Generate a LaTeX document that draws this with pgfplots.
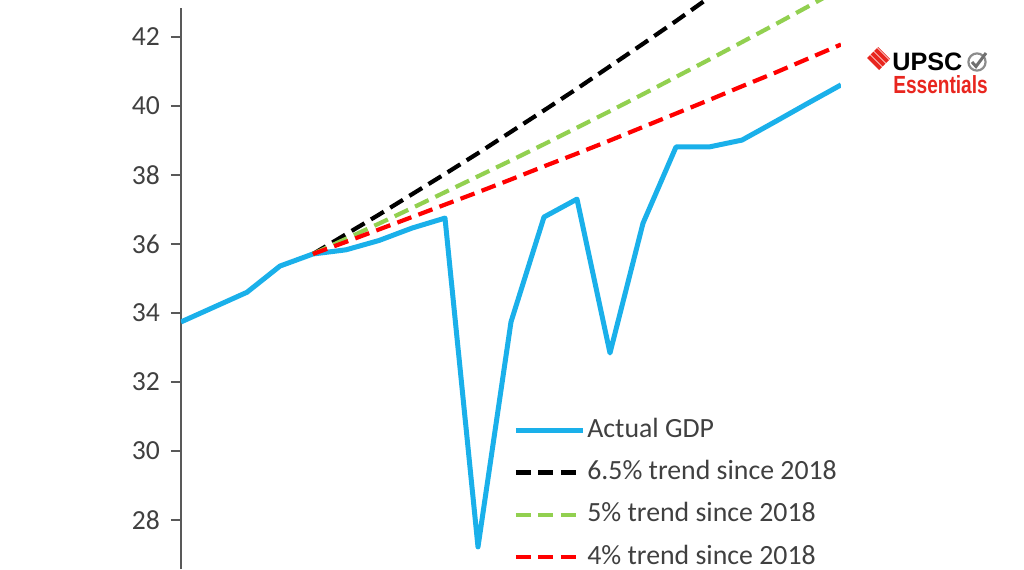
\documentclass[border=0pt]{standalone}
\usepackage{fontspec}
\setmainfont{Carlito}
\newfontfamily\logofont{Liberation Sans}
\usepackage{pgfplots}
\pgfplotsset{compat=1.18}
\usetikzlibrary{calc}
\definecolor{gdpblue}{HTML}{1AB0EA}
\definecolor{tgreen}{HTML}{92D050}
\definecolor{tred}{HTML}{FF0000}
\definecolor{axgray}{HTML}{595959}
\definecolor{txtgray}{HTML}{404040}
\definecolor{logored}{HTML}{E8261F}
\definecolor{checkgray}{HTML}{8C8C8C}

\pgfplotstableread{
x y
0 33.74
1 34.17
2 34.60
3 35.36
4 35.71
5 35.83
6 36.10
7 36.46
8 36.75
9 27.22
10 33.74
11 36.78
12 37.30
13 32.84
14 36.60
15 38.81
16 38.81
17 39.01
18 39.54
19 40.08
20 40.61
}\actual

\pgfplotstableread{
x y
4 35.71
5 36.28
6 36.85
7 37.44
8 38.03
9 38.63
10 39.25
11 39.87
12 40.50
13 41.15
14 41.80
15 42.46
16 43.14
}\trendsix

\pgfplotstableread{
x y
4 35.71
5 36.15
6 36.59
7 37.04
8 37.50
9 37.96
10 38.42
11 38.89
12 39.37
13 39.85
14 40.34
15 40.84
16 41.34
17 41.85
18 42.36
19 42.88
20 43.41
}\trendfive

\pgfplotstableread{
x y
4 35.71
5 36.06
6 36.42
7 36.78
8 37.14
9 37.50
10 37.87
11 38.25
12 38.62
13 39.00
14 39.39
15 39.78
16 40.17
17 40.57
18 40.96
19 41.37
20 41.78
}\trendfour

\begin{document}
\begin{tikzpicture}
\begin{axis}[
  scale only axis, width=330pt, height=284.5pt,
  xmin=0, xmax=20, ymin=26.58, ymax=43.07,
  axis x line=none, axis y line*=left,
  every outer y axis line/.append style={shorten >=4pt},
  y axis line style={draw=axgray, line width=0.9pt},
  ytick={28,30,...,42},
  tick align=outside, major tick length=5pt,
  every tick/.style={draw=axgray, line width=0.9pt},
  tick label style={font=\fontsize{13.8}{16}\selectfont, text=txtgray},
  yticklabel style={xshift=-2pt},
  /pgf/number format/assume math mode=true,
  clip=true,
  legend style={at={(axis cs:10.06,31.05)}, anchor=north west, draw=none, fill=none,
    font=\fontsize{13.9}{16}\selectfont, text=txtgray, inner sep=0pt,
    row sep=6.2pt,
    nodes={inner sep=1pt, text height=10pt, text depth=3pt}},
  legend cell align=left,
  legend image code/.code={\draw[#1] (0pt,0pt) -- (33.5pt,0pt);},
]
\addplot[gdpblue, line width=2.5pt, line join=round] table[x=x,y=y] {\actual};
\addlegendentry{Actual GDP}
\addplot[black, line width=2.1pt, dash pattern=on 7.5pt off 3.75pt] table[x=x,y=y] {\trendsix};
\addlegendentry{6.5\% trend since 2018}
\addplot[tgreen, line width=2.1pt, dash pattern=on 7.5pt off 3.75pt] table[x=x,y=y] {\trendfive};
\addlegendentry{5\% trend since 2018}
\addplot[tred, line width=2.1pt, dash pattern=on 7.5pt off 3.75pt] table[x=x,y=y] {\trendfour};
\addlegendentry{4\% trend since 2018}
\end{axis}
% logo, pixel coordinates of the 1024x569 image
\begin{scope}[shift={($(current axis.north west)+(-90.5pt,0pt)$)}, x=0.5pt, y=-0.5pt]
  \begin{scope}
    \clip (866,59) -- (878,47) -- (890,59) -- (878,71) -- cycle;
    \foreach \k in {0,1,2,3}{
      \draw[logored, line width=2pt] (856+\k*7,44) -- (882+\k*7,70);
    }
  \end{scope}
  \node[anchor=base west, inner sep=0pt, text depth=0pt, font=\logofont\fontsize{12.6}{13}\selectfont\bfseries] at (892,70.5) {UPSC};
  \draw[checkgray, line width=1.1pt] (977,62) circle (4.3pt);
  \draw[checkgray!80!black, line width=1.5pt] (972,62) -- (976,66.5) -- (986,53);
  \node[anchor=base west, inner sep=0pt, text height=9pt, text depth=0pt, text=logored, xscale=0.77, font=\logofont\fontsize{12.4}{13}\selectfont\bfseries] at (893,93) {Essentials};
\end{scope}
\pgfresetboundingbox
\path[use as bounding box] ($(current axis.south west)+(-90.5pt,0pt)$) rectangle ($(current axis.north east)+(91.5pt,0pt)$);
\end{tikzpicture}
\end{document}
